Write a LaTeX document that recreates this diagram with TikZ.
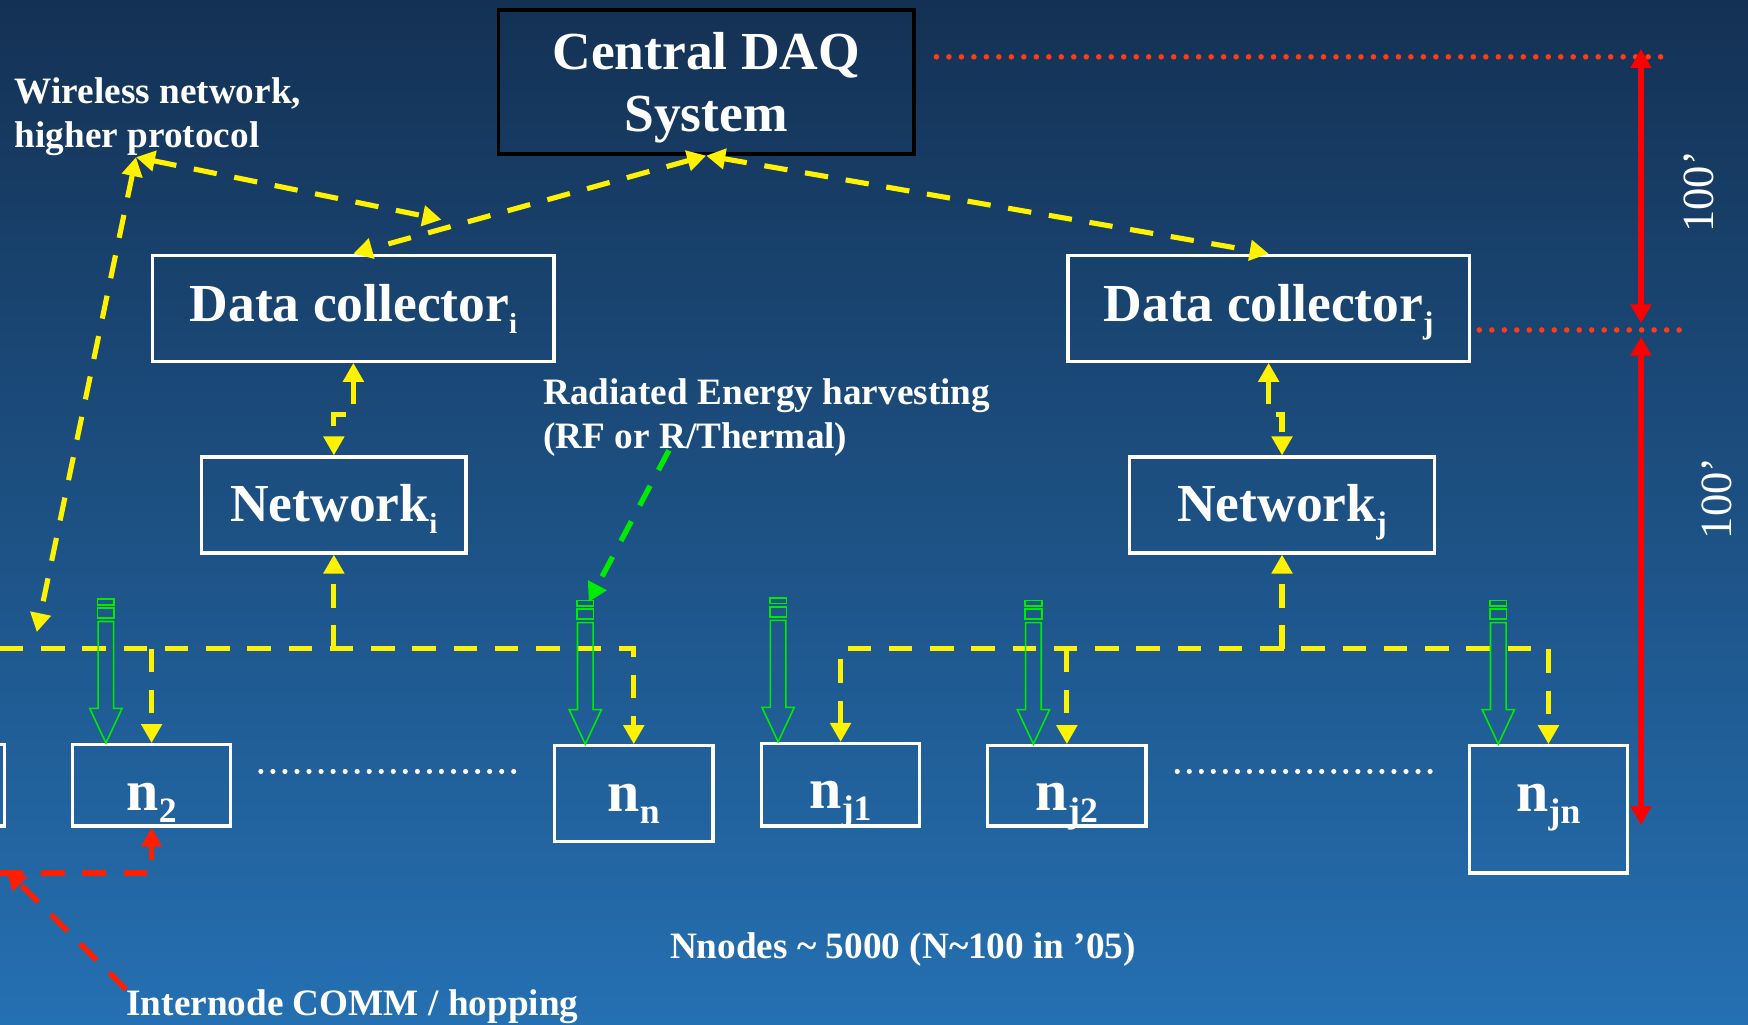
\documentclass[tikz,border=0pt]{standalone}
\usepackage{fontspec}
\setmainfont{Liberation Serif}
\usetikzlibrary{arrows.meta}
\definecolor{bgtop}{RGB}{20,49,84}
\definecolor{bgmid}{RGB}{30,90,148}
\definecolor{bgbot}{RGB}{37,112,178}
\definecolor{hopred}{RGB}{255,30,0}
\definecolor{dotred}{RGB}{255,60,20}
\definecolor{rfgreen}{RGB}{0,235,0}
\newcommand{\lo}[3][5.5pt]{\raisebox{-#1}{\fontsize{#2}{#2}\selectfont #3}}
\tikzstyle{wbox} = [rectangle, draw=white, line width=1.5pt, text=white, inner sep=0pt, font=\bfseries\fontsize{24}{28}\selectfont]
\tikzstyle{nbox} = [wbox, minimum width=71pt, text height=24pt, font=\bfseries\fontsize{26}{28}\selectfont]
\tikzstyle{note} = [text=white, inner sep=0pt, align=left, font=\bfseries\fontsize{16.7}{20}\selectfont]
\tikzstyle{ylink} = [draw=yellow, line width=2.3pt, dash pattern=on 10.5pt off 8pt]
\tikzstyle{rlink} = [draw=hopred, line width=2.4pt, dash pattern=on 10.5pt off 8pt]
\tikzstyle{glink} = [draw=rfgreen, line width=2.4pt, dash pattern=on 10pt off 8pt]
\tikzstyle{dimline} = [draw=red, line width=2.3pt]
\tikzstyle{dotline} = [draw=dotred, line width=2.5pt, line cap=round, dash pattern=on 0pt off 5.6pt]
\tikzstyle{ellip} = [draw=white, line width=2.3pt, line cap=round, dash pattern=on 0pt off 5.4pt]
\tikzset{antenna/.pic={
  \draw[rfgreen, line width=0.7pt] (-7.5,-129) rectangle (7.5,-124);
  \draw[rfgreen, line width=0.7pt] (-7.5,-121) rectangle (7.5,-112);
  \draw[rfgreen, line width=0.7pt] (-7,-109) -- (-7,-31) -- (-14.5,-31) -- (0,0)
    -- (14.5,-31) -- (7,-31) -- (7,-109) -- cycle;
}}

\begin{document}
\begin{tikzpicture}[x=0.5pt, y=-0.5pt, >={Triangle[width=9pt,length=8.5pt]}]
  \useasboundingbox (0,0) rectangle (1568,919);
  \shade[top color=bgtop, middle color=bgmid, bottom color=bgbot] (0,0) rectangle (1568,919);
  \clip (0,0) rectangle (1568,919);

  % boxes
  \node [wbox, draw=black, line width=1.6pt, align=center, minimum width=186.5pt, minimum height=64.5pt] (daq) at (633.5,73.5) {\rule{0pt}{22pt}Central DAQ\\System};
  \node [wbox, minimum width=180pt, minimum height=47.5pt, text height=17pt, text depth=5.5pt] (dci) at (317,276.5) {Data collector\lo{13}{i}};
  \node [wbox, minimum width=180pt, minimum height=47.5pt, text height=17pt, text depth=5.5pt] (dcj) at (1138,276.5) {Data collector\lo{14}{j}};
  \node [wbox, minimum width=118.5pt, minimum height=43pt, text height=18pt, text depth=3pt] (neti) at (299.5,453) {Network\lo{13}{i}};
  \node [wbox, minimum width=137pt, minimum height=43pt, text height=18pt, text depth=3pt] (netj) at (1150,453) {Network\lo{14}{j}};

  \node [nbox, minimum height=36.5pt, text depth=1.5pt] (n1) at (-67,704.5) {};
  \node [nbox, minimum height=36.5pt, text depth=1.5pt] (n2) at (136,704.5) {n\lo{16}{2}};
  \node [nbox, minimum height=43pt, text depth=8pt] (nn) at (568.5,712) {n\lo{16}{n}};
  \node [nbox, minimum height=37pt, text depth=3pt] (nj1) at (754,704) {n\lo{16}{j1}};
  \node [nbox, minimum height=36pt, text depth=2pt] (nj2) at (957,705) {n\lo{16}{j2}};
  \node [nbox, minimum height=57pt, text depth=22pt] (njn) at (1389,726) {n\lo{16}{jn}};

  % texts
  \node [note, anchor=north west] (wless) at (13,69) {Wireless network,\\higher protocol};
  \node [note, anchor=north west] (rad) at (487,339) {Radiated Energy harvesting\\(RF or R/Thermal)};
  \node [note, anchor=base] (nnodes) at (810,860) {Nnodes \textasciitilde{} 5000 (N\textasciitilde{}100 in ’05)};
  \node [note, anchor=base west] (comm) at (113,911) {Internode COMM / hopping};
  \node [text=white, inner sep=0pt, rotate=90, font=\fontsize{20}{20}\selectfont] (hup) at (1524,172) {100’};
  \node [text=white, inner sep=0pt, rotate=90, font=\fontsize{20}{20}\selectfont] (hdown) at (1540,447) {100’};

  % free ends
  \coordinate (wl) at (122,141);
  \coordinate (wmid) at (396,197);
  \coordinate (wbus) at (33,567);
  \coordinate (lbus) at (0,582);
  \coordinate (rfsrc) at (600,404);
  \coordinate (rftip) at (528,540);
  \coordinate (hopin) at (0,783);
  \coordinate (hoptip) at (6,781);
  \coordinate (dimA) at (1472,44);
  \coordinate (dimB) at (1472,290);
  \coordinate (dimC) at (1472,302);
  \coordinate (dimD) at (1472,740);

  % upper links
  \path [ylink, <->] (daq.south) -- (dci.north);
  \path [ylink, <->] (daq.south) -- (dcj.north);
  \path [ylink, <->] (wl) -- (wmid);
  \path [ylink, <->] (wl) -- (wbus);
  \path [ylink, <->] (dci.south) -- ++(0,46) -| (neti.north);
  \path [ylink, <->] (dcj.south) -- ++(0,46) -| (netj.north);

  % sensor bus
  \path [ylink, ->] (lbus) -| (nn.north);
  \path [ylink, ->] (n2.north |- lbus) -- (n2.north);
  \path [ylink, ->] (neti.south |- lbus) -- (neti.south);
  \path [ylink, <->] (nj1.north) |- (njn.north |- lbus) -- (njn.north);
  \path [ylink, ->] (nj2.north |- lbus) -- (nj2.north);
  \path [ylink, ->] (netj.south |- lbus) -- (netj.south);

  % antennas
  \foreach \ax/\nd in {95/n2, 525/nn, 698/nj1, 927/nj2, 1344/njn}
    \pic at (\ax,0 |- \nd.north) {antenna};
  \path [glink, ->] (rfsrc) -- (rftip);

  % hopping
  \path [rlink, ->] (hopin) -| (n2.south);
  \path [rlink, ->] (comm.north west) -- (hoptip);

  % ellipses
  \path [ellip] (234,692) -- (464,692);
  \path [ellip] (1056,692) -- (1285,692);

  % heights
  \path [dotline] (840,51) -- (1500,51);
  \path [dotline] (1327,296) -- (1515,296);
  \path [dimline, <->] (dimA) -- (dimB);
  \path [dimline, <->] (dimC) -- (dimD);
\end{tikzpicture}
\end{document}
